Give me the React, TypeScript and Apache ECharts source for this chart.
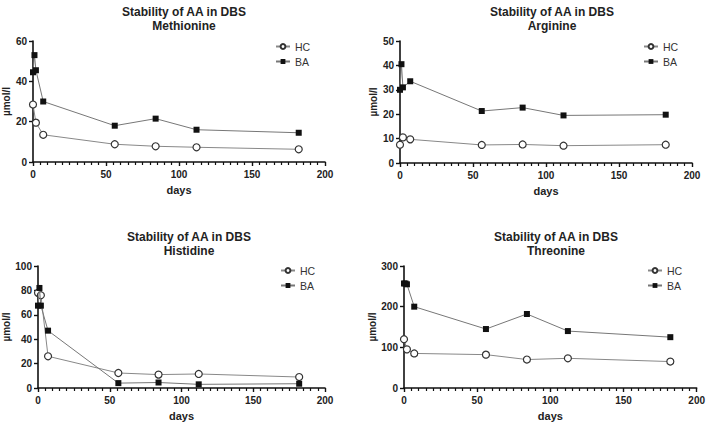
import React, { useEffect, useRef } from "react";
import * as echarts from "echarts";

const baDays = [0, 1, 2, 7, 56, 84, 112, 182];
const hcDays = [0, 2, 7, 56, 84, 112, 182];

const panelNames = ["Methionine", "Arginine", "Histidine", "Threonine"];

const metHC = [28.5, 19.5, 13.5, 8.8, 7.8, 7.3, 6.3];
const metBA = [44.5, 53, 45.5, 30, 18, 21.5, 16, 14.5];
const argHC = [7.5, 10.5, 9.7, 7.4, 7.6, 7.1, 7.5];
const argBA = [30, 40.5, 31, 33.5, 21.3, 22.7, 19.5, 19.8];
const hisHC = [78, 76, 26, 12.3, 11, 11.5, 9];
const hisBA = [67.5, 82, 67.5, 47, 4, 4.5, 3, 3.5];
const thrHC = [120, 95, 85, 82, 70, 73, 65];
const thrBA = [257, 257, 255, 200, 145, 182, 140, 125];

const yMax = [60, 50, 100, 300];
const yInterval = [20, 10, 20, 100];

const hcSets = [metHC, argHC, hisHC, thrHC];
const baSets = [metBA, argBA, hisBA, thrBA];

const FONT = "Liberation Sans, Arial, sans-serif";

export default function App() {
  const ref = useRef<HTMLDivElement>(null);
  useEffect(() => {
    if (!ref.current) return;
    const chart = echarts.init(ref.current, null, { renderer: "svg" });
    const grids = [
      { left: 32, right: 383, top: 41, bottom: 262 },
      { left: 400, right: 16, top: 41, bottom: 261 },
      { left: 37, right: 383, top: 266, bottom: 36 },
      { left: 404, right: 11, top: 266, bottom: 36 },
    ];
    const titleX = [179, 547, 184, 551];
    const titleTop = [0, 0, 225, 225];
    const legendPos = [
      { left: 270, top: 36 },
      { left: 638, top: 36 },
      { left: 275, top: 260 },
      { left: 642, top: 260 },
    ];
    const axisLine = { show: true, lineStyle: { color: "#111", width: 1.6 } };
    const xAxis = grids.map((_, i) => ({
      type: "value",
      gridIndex: i,
      min: 0,
      max: 200,
      interval: 50,
      axisLine,
      axisTick: { show: true, length: 4, lineStyle: { color: "#111", width: 1.4 } },
      minorTick: { show: true, splitNumber: 10, length: 3, lineStyle: { color: "#111", width: 1.2 } },
      splitLine: { show: false },
      axisLabel: { color: "#222", fontFamily: FONT, fontWeight: "bold", fontSize: 10, margin: 7 },
      name: "days",
      nameLocation: "middle",
      nameGap: 22,
      nameTextStyle: { color: "#222", fontFamily: FONT, fontWeight: "bold", fontSize: 11 },
    }));
    const yAxis = grids.map((_, i) => ({
      type: "value",
      gridIndex: i,
      min: 0,
      max: yMax[i],
      interval: yInterval[i],
      axisLine,
      axisTick: { show: true, length: 4, lineStyle: { color: "#111", width: 1.4 } },
      splitLine: { show: false },
      axisLabel: { color: "#222", fontFamily: FONT, fontWeight: "bold", fontSize: 10, margin: 6 },
      name: "µmol/l",
      nameLocation: "middle",
      nameGap: i === 2 ? 27 : 22,
      nameTextStyle: { color: "#222", fontFamily: FONT, fontWeight: "bold", fontSize: 10 },
    }));
    const series: any[] = [];
    for (let i = 0; i < 4; i++) {
      series.push({
        type: "line",
        name: "HC",
        xAxisIndex: i,
        yAxisIndex: i,
        data: hcDays.map((d, k) => [d, hcSets[i][k]]),
        symbol: "circle",
        symbolSize: 7,
        lineStyle: { color: "#888", width: 1 },
        itemStyle: { color: "#fff", borderColor: "#333", borderWidth: 1.2 },
        z: 3,
      });
      series.push({
        type: "line",
        name: "BA",
        xAxisIndex: i,
        yAxisIndex: i,
        data: baDays.map((d, k) => [d, baSets[i][k]]),
        symbol: "rect",
        symbolSize: 6,
        lineStyle: { color: "#777", width: 1 },
        itemStyle: { color: "#111" },
        z: 4,
      });
    }
    chart.setOption({
      animation: false,
      backgroundColor: "#fff",
      title: panelNames.map((n, i) => ({
        text: "Stability of AA in DBS\n" + n,
        left: titleX[i],
        top: titleTop[i],
        textAlign: "center",
        textStyle: { fontFamily: FONT, fontWeight: "bold", fontSize: 12, color: "#222", lineHeight: 14 },
      })),
      legend: legendPos.map((p) => ({
        data: ["HC", "BA"],
        orient: "vertical",
        left: p.left,
        top: p.top,
        itemWidth: 14,
        itemHeight: 6,
        itemGap: 4,
        selectedMode: false,
        textStyle: { fontFamily: FONT, fontSize: 10.5, color: "#333" },
      })),
      grid: grids,
      xAxis,
      yAxis,
      series,
    });
    return () => chart.dispose();
  }, []);
  return (
    <div
      ref={ref}
      style={{ position: "absolute", left: 0, top: 0, width: 708, height: 424, background: "#fff" }}
    />
  );
}
